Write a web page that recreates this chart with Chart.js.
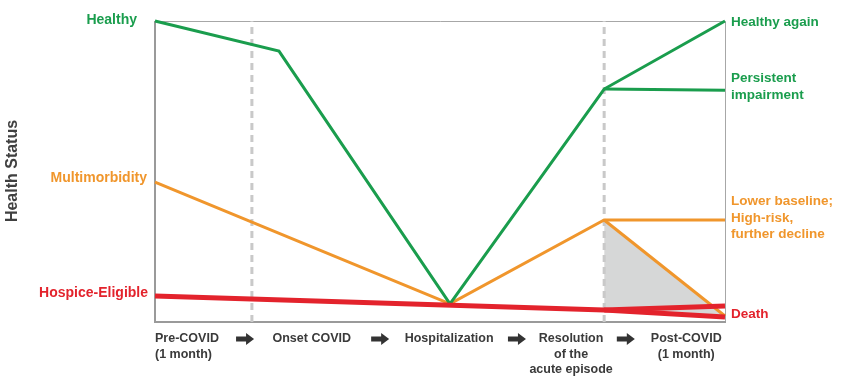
<!DOCTYPE html>
<html>
<head>
<meta charset="utf-8">
<script src="https://cdn.jsdelivr.net/npm/chart.js@4.4.1/dist/chart.umd.min.js"></script>
<style>
  html, body { margin: 0; padding: 0; background: #ffffff; }
  #wrap { width: 850px; height: 389px; position: relative; }
</style>
</head>
<body>
<div id="wrap"><canvas id="c" width="850" height="389"></canvas></div>
<script>
// ---- data (x: timeline position 0..100, y: health status 0..100) ----
const greenMain     = [{x:0,y:100},{x:21.75,y:90},{x:51.75,y:6},{x:78.8,y:77.4},{x:100,y:100}];
const greenPersist  = [{x:78.8,y:77.4},{x:100,y:77}];
const orangeMain    = [{x:0,y:46.5},{x:51.75,y:6},{x:78.8,y:33.9},{x:100,y:33.9}];
const orangeDecline = [{x:78.8,y:33.9},{x:100,y:2}];
const redMain       = [{x:0,y:8.6},{x:78.8,y:4},{x:100,y:1.7}];
const redBranch     = [{x:78.8,y:4},{x:100,y:5.3}];
const dividerX      = [17, 78.8];

const stageLabels = [["Pre-COVID","(1 month)"],["Onset COVID"],["Hospitalization"],["Resolution","of the","acute episode"],["Post-COVID","(1 month)"]];
const stagePos    = [0, 27.5, 51.6, 73, 93.2];
const arrowPos    = [15.8, 39.5, 63.5, 82.6];

const leftLabels  = [
  {text:"Healthy", y:100.3, color:"#1a9d4d", dx:-18},
  {text:"Multimorbidity", y:47.8, color:"#f0962c", dx:-8},
  {text:"Hospice-Eligible", y:9.6, color:"#e3232c", dx:-7}
];
const rightLabels = [
  {lines:["Healthy again"], y:99.7, color:"#1a9d4d"},
  {lines:["Persistent","impairment"], y:78.2, color:"#1a9d4d"},
  {lines:["Lower baseline;","High-risk,","further decline"], y:34.6, color:"#f0962c"},
  {lines:["Death"], y:2.7, color:"#e3232c"}
];

const GREEN = "#1a9d4d", ORANGE = "#f0962c", RED = "#e3232c";

const lineDs = (data, color, width, order, extra) => Object.assign({
  type:'line', data, borderColor:color, borderWidth:width, pointRadius:0,
  fill:false, tension:0, order, clip:false, borderJoinStyle:'miter', borderCapStyle:'butt'
}, extra || {});

const datasets = [
  lineDs(redMain, RED, 5, 1),                              // 0
  lineDs(redBranch, RED, 5, 1),                            // 1
  lineDs(greenMain, GREEN, 3, 3),                          // 2
  lineDs(greenPersist, GREEN, 3, 3),                       // 3
  lineDs(orangeMain, ORANGE, 3, 4),                        // 4
  lineDs(orangeDecline, ORANGE, 3, 4, {fill:0, backgroundColor:'#d6d7d7'}), // 5
];
dividerX.forEach(v => datasets.push(lineDs([{x:v,y:0},{x:v,y:100}], '#c9c9c9', 3, 10, {borderDash:[7,5]})));

const decor = {
  id:'decor',
  beforeDatasetsDraw(chart){
    const {ctx, chartArea:a} = chart;
    ctx.save();
    ctx.strokeStyle = '#a7a7a7';
    ctx.lineWidth = 1;
    ctx.beginPath();
    ctx.moveTo(a.left, a.top + 0.5); ctx.lineTo(a.right + 0.5, a.top + 0.5); ctx.lineTo(a.right + 0.5, a.bottom);
    ctx.stroke();
    ctx.strokeStyle = '#9a9a9a';
    ctx.lineWidth = 2;
    ctx.beginPath();
    ctx.moveTo(a.left, a.top); ctx.lineTo(a.left, a.bottom); ctx.lineTo(a.right + 1, a.bottom);
    ctx.stroke();
    ctx.restore();
  },
  afterDraw(chart){
    const {ctx, chartArea:a, scales:{x, y}} = chart;
    ctx.save();
    // y title
    ctx.translate(13, 171);
    ctx.rotate(-Math.PI/2);
    ctx.fillStyle = '#404040';
    ctx.font = 'bold 16px "Liberation Sans", Arial, sans-serif';
    ctx.textAlign = 'center'; ctx.textBaseline = 'middle';
    ctx.fillText('Health Status', 0, 0);
    ctx.restore();

    ctx.save();
    ctx.font = 'bold 14px "Liberation Sans", Arial, sans-serif';
    ctx.textBaseline = 'middle';
    ctx.textAlign = 'right';
    leftLabels.forEach(l => { ctx.fillStyle = l.color; ctx.fillText(l.text, a.left + l.dx, y.getPixelForValue(l.y)); });
    ctx.font = 'bold 13.5px "Liberation Sans", Arial, sans-serif';
    ctx.textAlign = 'left';
    const lh = 16.5;
    rightLabels.forEach(l => {
      ctx.fillStyle = l.color;
      const cy = y.getPixelForValue(l.y);
      const y0 = cy - (l.lines.length - 1) * lh / 2;
      l.lines.forEach((t, i) => ctx.fillText(t, a.right + 6, y0 + i * lh));
    });

    // stage labels
    ctx.fillStyle = '#3a3a3a';
    ctx.font = 'bold 12.5px "Liberation Sans", Arial, sans-serif';
    const base = a.bottom + 17;
    stageLabels.forEach((lines, i) => {
      const px = x.getPixelForValue(stagePos[i]);
      ctx.textAlign = i === 0 ? 'left' : 'center';
      lines.forEach((t, j) => ctx.fillText(t, px, base + j * 15.5));
    });
    // arrows
    ctx.fillStyle = '#333333';
    arrowPos.forEach(v => {
      const cx = x.getPixelForValue(v), cy = base;
      ctx.beginPath();
      ctx.moveTo(cx - 9, cy - 2.5);
      ctx.lineTo(cx + 1, cy - 2.5);
      ctx.lineTo(cx + 1, cy - 6);
      ctx.lineTo(cx + 9, cy);
      ctx.lineTo(cx + 1, cy + 6);
      ctx.lineTo(cx + 1, cy + 2.5);
      ctx.lineTo(cx - 9, cy + 2.5);
      ctx.closePath();
      ctx.fill();
    });
    ctx.restore();
  }
};

new Chart(document.getElementById('c'), {
  type:'line',
  data:{ datasets },
  options:{
    responsive:false,
    animation:false,
    devicePixelRatio:1,
    layout:{ padding:{ left:155, right:125, top:21, bottom:67 } },
    scales:{
      x:{ type:'linear', min:0, max:100, display:false },
      y:{ type:'linear', min:0, max:100, display:false }
    },
    plugins:{
      legend:{ display:false },
      tooltip:{ enabled:false },
      filler:{ drawTime:'beforeDatasetsDraw' }
    }
  },
  plugins:[decor]
});
</script>
</body>
</html>
